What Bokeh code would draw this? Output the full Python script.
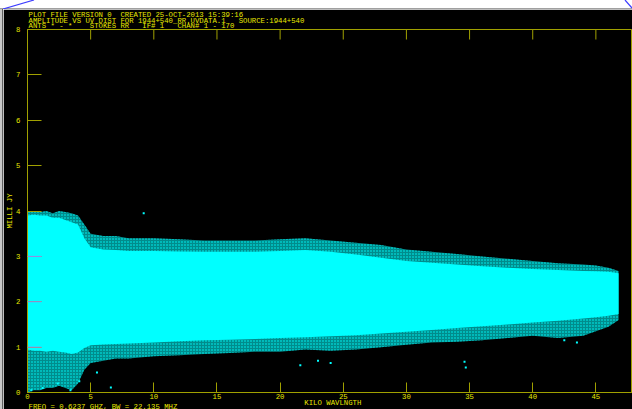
from bokeh.plotting import figure
from bokeh.models import ColumnDataSource, SingleIntervalTicker, Title, Div
from bokeh.layouts import column, row
from bokeh.embed import file_html
from bokeh.resources import INLINE

# ---- data -----------------------------------------------------------------
u = [0, 0.5, 1, 1.5, 2, 2.5, 3, 3.5, 4, 4.5, 5, 6, 7, 8, 10, 12, 14, 16, 18, 20,
     22, 24, 26, 28, 30, 32, 34, 36, 38, 40, 42, 44, 45, 46, 46.8]
outer_hi = [3.98, 4.0, 3.98, 4.0, 3.95, 4.0, 3.98, 3.95, 3.9, 3.7, 3.5, 3.45, 3.45, 3.4,
            3.4, 3.38, 3.35, 3.35, 3.35, 3.38, 3.4, 3.35, 3.3, 3.25, 3.15, 3.1, 3.05,
            3.0, 2.95, 2.9, 2.85, 2.82, 2.8, 2.75, 2.68]
core_hi = [3.9, 3.92, 3.9, 3.9, 3.85, 3.85, 3.8, 3.75, 3.7, 3.4, 3.2, 3.15, 3.14, 3.12,
           3.12, 3.11, 3.1, 3.1, 3.1, 3.12, 3.14, 3.1, 3.04, 2.97, 2.9, 2.86, 2.82,
           2.78, 2.75, 2.72, 2.7, 2.68, 2.67, 2.66, 2.63]
core_lo = [0.95, 0.92, 0.92, 0.9, 0.92, 0.9, 0.88, 0.85, 0.88, 0.98, 1.04, 1.06, 1.07, 1.08,
           1.1, 1.13, 1.15, 1.16, 1.18, 1.2, 1.22, 1.24, 1.26, 1.3, 1.34, 1.38, 1.42,
           1.46, 1.5, 1.54, 1.58, 1.63, 1.66, 1.69, 1.73]
outer_lo = [0.0, 0.05, 0.05, 0.1, 0.1, 0.15, 0.1, 0.05, 0.2, 0.5, 0.65, 0.7, 0.75, 0.75,
            0.8, 0.82, 0.85, 0.87, 0.9, 0.9, 0.95, 0.92, 0.95, 1.0, 1.05, 1.1, 1.12,
            1.15, 1.2, 1.25, 1.2, 1.25, 1.35, 1.45, 1.6]

# a few isolated outliers
out_u = [9.2, 0.3, 1.2, 2.4, 3.4, 4.1, 5.5, 6.6, 21.6, 23.0, 24.0, 34.7, 34.6, 42.5, 43.5]
out_a = [3.95, 0.05, 0.1, 0.2, 0.05, 0.25, 0.44, 0.11, 0.6, 0.7, 0.65, 0.55, 0.68, 1.15, 1.1]

x_ticks = [0, 5, 10, 15, 20, 25, 30, 35, 40, 45]
y_ticks_interval = 1
tinted_ticks = [1, 2, 3]

header = ["PLOT FILE VERSION 0  CREATED 25-OCT-2013 15:39:16",
          "AMPLITUDE VS UV DIST FOR 1944+540_RR.UVDATA.1   SOURCE:1944+540",
          "ANTS * - *    STOKES RR   IF# 1   CHAN# 1 - 170"]
x_label = "KILO WAVLNGTH"
y_label = "MILLI JY"
footer = "FREQ = 0.6237 GHZ, BW = 22.135 MHZ"

# ---- styling ---------------------------------------------------------------
CYAN = "#00ffff"
OLIVE = "#a0a000"
YEL = "#e8e800"
FONT = "Liberation Mono"
FS = "7.3px"
NB = "\u00a0"

PAGE_W, PAGE_H = 632, 409
STRIP_T, STRIP_L = 9, 3          # window chrome of the screenshot
W, H = PAGE_W - STRIP_L, PAGE_H - STRIP_T
L, T, B = 24, 20, 17             # frame at page x=27, y=29..392
XMAX, YMAX = 47.9, 8.0
pxu = (W - L) / XMAX
pya = (H - T - B) / YMAX

p = figure(width=W, height=H, x_range=(0, XMAX), y_range=(0, YMAX),
           output_backend="svg", toolbar_location=None,
           min_border_left=L, min_border_right=0, min_border_top=T, min_border_bottom=B,
           background_fill_color="black", border_fill_color="black",
           outline_line_color=OLIVE, outline_line_width=1)
p.xgrid.visible = False
p.ygrid.visible = False

src = ColumnDataSource(dict(u=u, ohi=outer_hi, olo=outer_lo, chi=core_hi, clo=core_lo))
p.varea(x="u", y1="olo", y2="ohi", source=src, fill_color=CYAN, fill_alpha=0.55,
        hatch_pattern="dot", hatch_color=CYAN, hatch_scale=3, hatch_weight=1)
p.varea(x="u", y1="clo", y2="chi", source=src, fill_color=CYAN, fill_alpha=1.0)
p.scatter(out_u, out_a, marker="square", size=2, color=CYAN, line_width=0)

def style_axis(ax, tick_in):
    ax.minor_tick_line_color = None
    ax.major_tick_in = tick_in
    ax.major_tick_out = 0
    ax.major_tick_line_color = OLIVE
    ax.axis_line_color = OLIVE
    ax.major_label_text_font = FONT
    ax.major_label_text_font_size = FS
    ax.major_label_text_color = YEL
    ax.axis_label_text_font = FONT
    ax.axis_label_text_font_size = FS
    ax.axis_label_text_color = YEL
    ax.axis_label_text_font_style = "normal"

xa = p.xaxis[0]
xa.ticker = x_ticks
style_axis(xa, 10)
xa.major_label_standoff = 1

ya = p.yaxis[0]
ya.ticker = SingleIntervalTicker(interval=y_ticks_interval)
style_axis(ya, 14)
ya.major_label_standoff = 3
ya.major_label_orientation = "horizontal"
ya.axis_label = y_label
ya.axis_label_standoff = -1

# ticks hanging from the top edge of the frame (same positions as the x ticks)
p.segment(x0=x_ticks, x1=x_ticks, y0=[YMAX] * len(x_ticks),
          y1=[YMAX - 10 / pya] * len(x_ticks), line_color=OLIVE, line_width=1)

# tick marks over the data look lavender in the original
p.segment(x0=[0] * len(tinted_ticks), x1=[14 / pxu] * len(tinted_ticks),
          y0=tinted_ticks, y1=tinted_ticks, line_color="#8c8cff", line_width=1,
          level="overlay")

def nb(s):
    return s.replace(" ", NB)

p.add_layout(Title(text="\n".join(nb(h) for h in header), align="left", offset=1,
                   standoff=-1, text_font=FONT, text_font_size=FS, text_color=YEL,
                   text_font_style="normal", text_line_height=0.68), "above")
bottom_text = NB * 63 + nb(x_label) + "\n" + nb(footer)
p.add_layout(Title(text=bottom_text, align="left", offset=1, standoff=-8,
                   text_font=FONT, text_font_size=FS, text_color=YEL,
                   text_font_style="normal", text_line_height=0.55), "below")

top_strip = Div(width=PAGE_W, height=STRIP_T, margin=0,
                text=('<svg width="632" height="9" style="display:block">'
                      '<rect x="0" y="0" width="632" height="9" fill="white"/>'
                      '<line x1="0" y1="8.5" x2="632" y2="8.5" stroke="#a0a0a0"/>'
                      '<line x1="3" y1="9" x2="34" y2="0" stroke="#3c3cff" stroke-width="1.2"/>'
                      '<line x1="625" y1="0" x2="632" y2="8" stroke="#3c3cff" stroke-width="1.2"/>'
                      '</svg>'),
                styles={"padding": "0", "line-height": "0"})
left_strip = Div(width=STRIP_L, height=H, margin=0, text="",
                 styles={"background-color": "#c8c8c8", "border-right": "1px solid #606060",
                         "box-sizing": "border-box", "padding": "0"})
p.margin = 0
layout = column(top_strip, row(left_strip, p, spacing=0), spacing=0)

open("out.html", "w").write(file_html(layout, INLINE))
